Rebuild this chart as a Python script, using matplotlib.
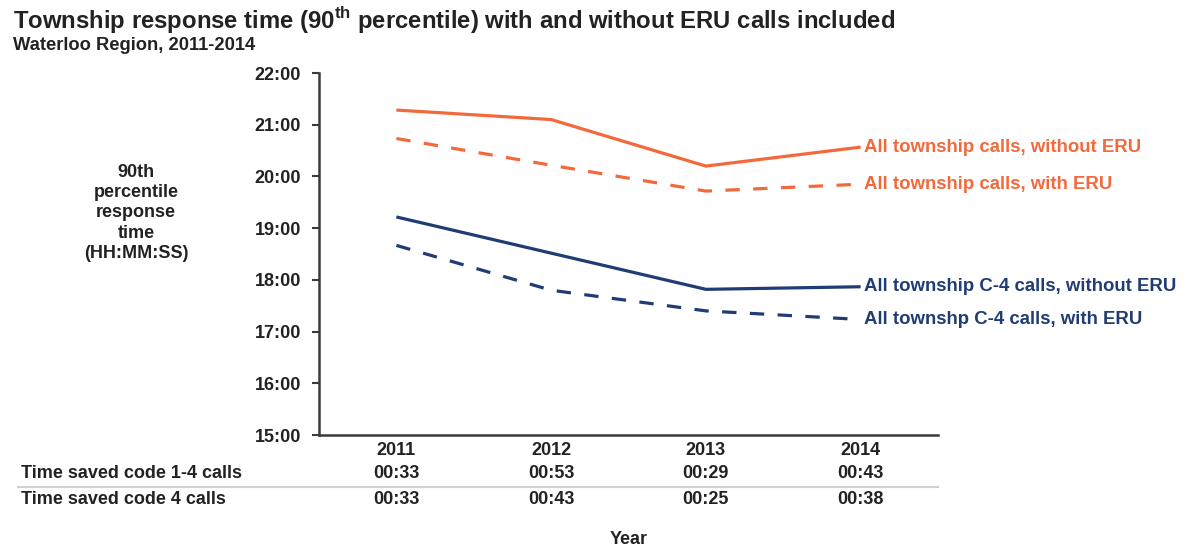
import matplotlib
matplotlib.use("Agg")
import matplotlib.pyplot as plt
from matplotlib.ticker import FuncFormatter, MultipleLocator
from matplotlib.transforms import blended_transform_factory, offset_copy

plt.rcParams["font.family"] = ["Liberation Sans", "DejaVu Sans"]
plt.rcParams["mathtext.fontset"] = "custom"
plt.rcParams["mathtext.rm"] = "Liberation Sans"
plt.rcParams["mathtext.bf"] = "Liberation Sans:bold"

# ---- data -------------------------------------------------------------
years = ["2011", "2012", "2013", "2014"]

all_without_eru = ["21:17", "21:06", "20:12", "20:34"]
all_with_eru = ["20:44", "20:13", "19:43", "19:51"]
c4_without_eru = ["19:13", "18:31", "17:49", "17:52"]
c4_with_eru = ["18:40", "17:48", "17:24", "17:14"]

saved_code_1_4 = ["00:33", "00:53", "00:29", "00:43"]
saved_code_4 = ["00:33", "00:43", "00:25", "00:38"]

series_labels = [
    "All township calls, without ERU",
    "All township calls, with ERU",
    "All township C-4 calls, without ERU",
    "All townshp C-4 calls, with ERU",
]
row_labels = ["Time saved code 1-4 calls", "Time saved code 4 calls"]


def to_minutes(stamp):
    m, s = stamp.split(":")
    return int(m) + int(s) / 60.0


W, H = 1188, 550
FS = 13
TXT = "#222222"
fig = plt.figure(figsize=(W / 100, H / 100), dpi=100)
ax = fig.add_axes([319 / W, 1 - 435 / H, (938 - 319) / W, (435 - 73) / H])

ORANGE = "#F26A3B"
NAVY = "#203C74"
x = list(range(len(years)))

styles = [
    (all_without_eru, ORANGE, "-"),
    (all_with_eru, ORANGE, (0, (4.5, 4.2))),
    (c4_without_eru, NAVY, "-"),
    (c4_with_eru, NAVY, (0, (4.5, 4.2))),
]
for (vals, color, ls), label in zip(styles, series_labels):
    y = [to_minutes(v) for v in vals]
    ax.plot(x, y, color=color, lw=2.3, ls=ls, solid_capstyle="butt",
            dash_capstyle="butt")
    ax.text(x[-1], y[-1], label, color=color, fontsize=13.4, fontweight="bold",
            va="center", ha="left",
            transform=offset_copy(ax.transData, fig=fig, x=3, y=0, units="dots"))

ax.set_xlim(-0.5, 3.5)
ax.set_ylim(15, 22)
ax.yaxis.set_major_locator(MultipleLocator(1))
ax.yaxis.set_major_formatter(FuncFormatter(lambda v, p: f"{int(round(v)):02d}:00"))
ax.set_xticks(x)
ax.set_xticklabels(years)
for side in ("top", "right"):
    ax.spines[side].set_visible(False)
for side in ("left", "bottom"):
    ax.spines[side].set_color("#3a3a3a")
    ax.spines[side].set_linewidth(1.8)
ax.tick_params(axis="y", length=5, width=1.5, color="#3a3a3a", pad=8,
               labelsize=FS, labelcolor=TXT)
ax.tick_params(axis="x", length=0, pad=5, labelsize=FS, labelcolor=TXT)
for lbl in ax.get_yticklabels() + ax.get_xticklabels():
    lbl.set_fontweight("bold")

# y-axis label block
fig.text(136 / W, 1 - 213 / H, "90th\npercentile\nresponse\ntime\n(HH:MM:SS)",
         ha="center", va="center", fontsize=FS, fontweight="bold",
         color=TXT, linespacing=1.25)

# titles
fig.text(13 / W, 1 - 20 / H,
         r"Township response time (90$^{\mathbf{th}}$ percentile) with and without ERU calls included",
         ha="left", va="center", fontsize=17.2, fontweight="bold", color=TXT)
fig.text(13 / W, 1 - 46 / H, "Waterloo Region, 2011-2014",
         ha="left", va="center", fontsize=13.2, fontweight="bold", color=TXT)

# table of time saved below the axis
tr = blended_transform_factory(ax.transData, fig.transFigure)
for row_y, label, vals in [(474, row_labels[0], saved_code_1_4),
                           (500, row_labels[1], saved_code_4)]:
    fig.text(21 / W, 1 - row_y / H, label, ha="left", va="center",
             fontsize=FS, fontweight="bold", color=TXT)
    for xi, v in zip(x, vals):
        ax.text(xi, 1 - row_y / H, v, transform=tr, ha="center", va="center",
                fontsize=FS, fontweight="bold", color=TXT, clip_on=False)

fig.add_artist(plt.Line2D([18 / W, 938 / W], [1 - 487 / H, 1 - 487 / H],
                          color="#d0d0d0", lw=1.5))

fig.text((319 + 938) / 2 / W, 1 - 540 / H, "Year", ha="center", va="center",
         fontsize=FS, fontweight="bold", color=TXT)

fig.savefig("out.png", dpi=100, facecolor="white")
